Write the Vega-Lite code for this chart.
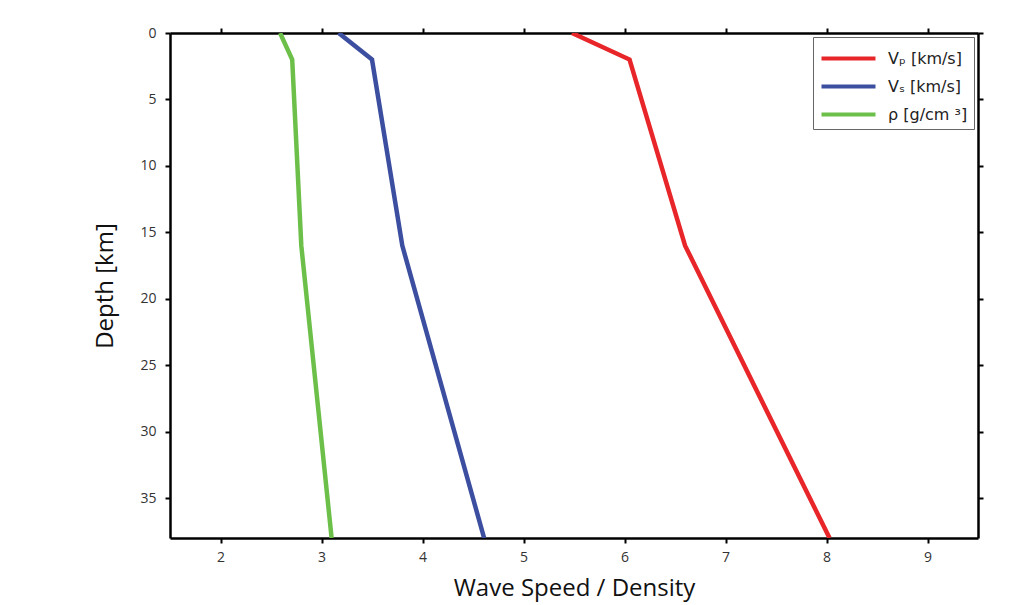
{
  "$schema": "https://vega.github.io/schema/vega-lite/v6.json",
  "width": 808,
  "height": 505,
  "autosize": {"type": "none"},
  "padding": {"left": 170, "top": 33, "right": 54, "bottom": 67},
  "background": "white",
  "config": {
    "font": "Open Sans",
    "view": {"stroke": null},
    "axis": {
      "grid": false,
      "domainColor": "black",
      "domainWidth": 2.5,
      "tickColor": "black",
      "tickWidth": 2,
      "tickSize": 5,
      "labelFont": "Open Sans",
      "labelFontSize": 14,
      "labelColor": "#333",
      "titleFont": "Open Sans",
      "titleFontSize": 24,
      "titleFontWeight": "normal",
      "titleColor": "#111"
    }
  },
  "data": {
    "values": [
      {"series": "Vₚ  [km/s]", "value": 5.48, "depth": 0},
      {"series": "Vₚ  [km/s]", "value": 6.05, "depth": 2},
      {"series": "Vₚ  [km/s]", "value": 6.6, "depth": 16},
      {"series": "Vₚ  [km/s]", "value": 8.03, "depth": 38},
      {"series": "Vₛ  [km/s]", "value": 3.17, "depth": 0},
      {"series": "Vₛ  [km/s]", "value": 3.5, "depth": 2},
      {"series": "Vₛ  [km/s]", "value": 3.8, "depth": 16},
      {"series": "Vₛ  [km/s]", "value": 4.61, "depth": 38},
      {"series": "ρ [g/cm ³]", "value": 2.59, "depth": 0},
      {"series": "ρ [g/cm ³]", "value": 2.71, "depth": 2},
      {"series": "ρ [g/cm ³]", "value": 2.8, "depth": 16},
      {"series": "ρ [g/cm ³]", "value": 3.1, "depth": 38}
    ]
  },
  "layer": [
    {
      "mark": {"type": "line", "strokeWidth": 4.5, "clip": true},
      "encoding": {
        "x": {
          "field": "value", "type": "quantitative",
          "scale": {"domain": [1.5, 9.5], "nice": false, "zero": false},
          "axis": {"title": "Wave Speed / Density", "values": [2,3,4,5,6,7,8,9], "labelPadding": 7, "titlePadding": 12}
        },
        "y": {
          "field": "depth", "type": "quantitative",
          "scale": {"domain": [0, 38], "nice": false, "reverse": true},
          "axis": {"title": "Depth [km]", "values": [0,5,10,15,20,25,30,35], "labelPadding": 9, "titlePadding": 22}
        },
        "color": {
          "field": "series", "type": "nominal",
          "sort": ["Vₚ  [km/s]", "Vₛ  [km/s]", "ρ [g/cm ³]"],
          "scale": {"domain": ["Vₚ  [km/s]", "Vₛ  [km/s]", "ρ [g/cm ³]"], "range": ["#e8262a", "#3b4ea0", "#6cc04a"]},
          "legend": {
            "title": null,
            "orient": "top-right",
            "offset": 4,
            "symbolType": "M-2,0H2",
            "symbolStrokeWidth": 4,
            "symbolSize": 729,
            "symbolOffset": 14,
            "labelFontSize": 16,
            "labelFont": "DejaVu Sans",
            "labelColor": "#222",
            "strokeColor": "#666",
            "fillColor": "white",
            "padding": 6,
            "rowPadding": 4,
            "labelOffset": 24
          }
        },
        "detail": {"field": "series"}
      }
    },
    {
      "mark": {"type": "point", "opacity": 0},
      "encoding": {
        "x": {
          "field": "value", "type": "quantitative",
          "axis": {"orient": "top", "title": null, "labels": false, "values": [2,3,4,5,6,7,8,9]}
        },
        "y": {
          "field": "depth", "type": "quantitative",
          "axis": {"orient": "right", "title": null, "labels": false, "values": [0,5,10,15,20,25,30,35]}
        }
      }
    }
  ],
  "resolve": {"axis": {"x": "independent", "y": "independent"}}
}
